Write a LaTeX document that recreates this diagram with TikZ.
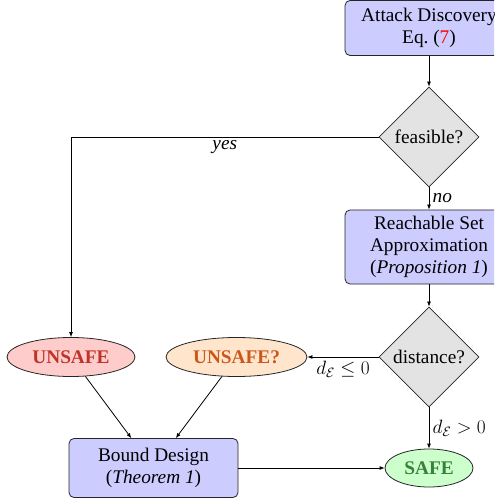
\RequirePackage{fix-cm}
\documentclass[tikz,border=0pt]{standalone}
\usepackage{fontspec}
\setmainfont{Liberation Serif}
\usetikzlibrary{shapes.geometric,arrows.meta}
\newcommand\figfont{\fontsize{19.3}{22}\selectfont}
\definecolor{unsafetext}{RGB}{190,52,38}
\definecolor{maybetext}{RGB}{202,88,28}
\definecolor{safetext}{RGB}{55,128,55}
\begin{document}
\begin{tikzpicture}[x=1pt,y=-1pt,font=\figfont,
  proc/.style={draw=black!85, fill=blue!20, rounded corners=5pt, minimum width=168pt,
    minimum height=59pt, align=center, inner sep=2pt, line width=0.8pt},
  decision/.style={diamond, draw=black!85, fill=gray!22, minimum width=100pt,
    minimum height=100pt, inner sep=0pt, aspect=1, line width=0.8pt},
  term/.style={ellipse, draw=black!85, inner sep=0pt, minimum height=39pt,
    font=\figfont\bfseries, line width=0.8pt},
  arr/.style={-{Latex[length=5pt,width=4pt]}, line width=0.8pt},
  lbl/.style={font=\figfont\itshape}]
\clip (0,0) rectangle (494,502);
\node[proc, minimum height=55pt] (attack) at (429,28) {Attack Discovery\\Eq.~(\textcolor{red}{7})};
\node[decision] (feas) at (429,137) {feasible?};
\node[proc, minimum height=74pt] (reach) at (429,247) {Reachable Set\\Approximation\\(\textit{Proposition 1})};
\node[decision] (dist) at (429,357) {distance?};
\node[term, fill=red!20, text=unsafetext, minimum width=128pt] (unsafe) at (71,357) {UNSAFE};
\node[term, fill=orange!20, text=maybetext, minimum width=141pt] (unsafeq) at (236.5,357) {UNSAFE?};
\node[term, fill=green!20, text=safetext, minimum width=88pt, minimum height=38pt] (safe) at (429,468) {SAFE};
\node[proc, minimum width=169pt] (bound) at (153.5,468) {Bound Design\\(\textit{Theorem 1})};
\draw[arr] (attack) -- (feas);
\draw[arr] (feas.west) -| node[pos=0.25, below, lbl] {yes} (unsafe.north);
\draw[arr] (feas.south) -- node[right, lbl] {no} (reach.north);
\draw[arr] (reach) -- (dist);
\draw[arr] (dist.west) -- node[below] {$d_{\mathcal{E}}\leq 0$} (unsafeq.east);
\draw[arr] (dist.south) -- node[right] {$d_{\mathcal{E}}>0$} (safe.north);
\draw[arr] (unsafe) -- (bound);
\draw[arr] (unsafeq) -- (bound);
\draw[arr] (bound) -- (safe);
\end{tikzpicture}
\end{document}
